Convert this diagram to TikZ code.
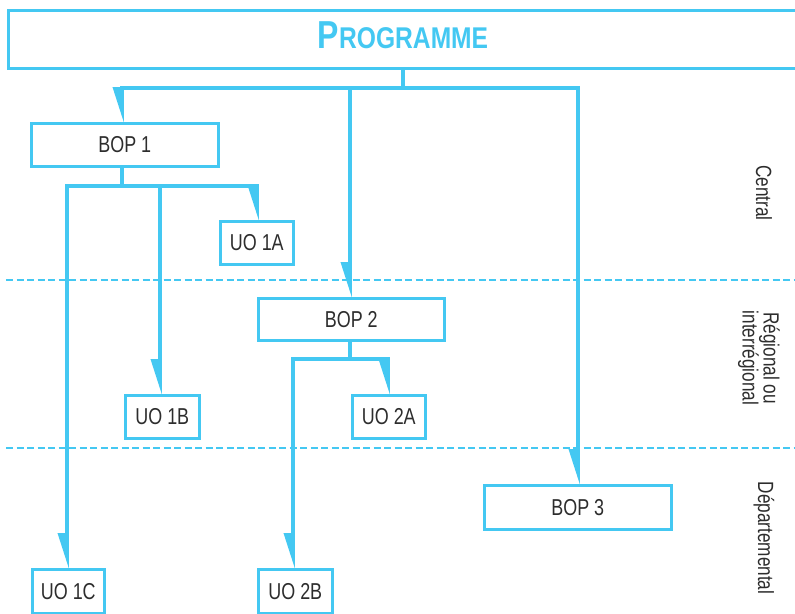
\documentclass[tikz,border=0pt]{standalone}
\usepackage{fontspec}
\setmainfont{Liberation Sans}[FakeStretch=0.78]
\newfontfamily\titlefont{Liberation Sans}[FakeStretch=0.82]
\usetikzlibrary{arrows.meta}
\definecolor{cy}{RGB}{68,200,242}
\definecolor{tx}{RGB}{45,45,45}
\tikzset{
  box/.style={draw=cy, line width=2.6pt, inner sep=0pt, text=tx, font=\fontsize{23}{26}\selectfont},
  conn/.style={draw=cy, line width=3.6pt, line cap=rect},
  arr/.style={conn, -{Triangle[right, length=30pt, width=18pt]}, shorten >=-1pt},
  sep/.style={draw=cy, line width=2.4pt, dash pattern=on 7pt off 3.5pt},
  lvl/.style={text=tx, rotate=-90, font=\fontsize{22}{21}\selectfont, align=center}
}
\begin{document}
\begin{tikzpicture}[x=1pt,y=-1pt]
\useasboundingbox (0,0) rectangle (795,613);
% dashed separators
\draw[sep] (6,280) -- (800,280);
\draw[sep] (6,448) -- (800,448);
% programme
\node[box, minimum width=800pt, minimum height=58pt, anchor=north west] (prog) at (7,9) {};
\node[text=cy, anchor=base, font=\titlefont\bfseries] (progtxt) at (403,48) {{\fontsize{39}{40}\selectfont P}{\fontsize{30}{32}\selectfont ROGRAMME}};
% boxes
\node[box, minimum width=187pt, minimum height=43pt, anchor=north west] (bop1) at (30,122) {BOP 1};
\node[box, minimum width=186pt, minimum height=42pt, anchor=north west] (bop2) at (257,297) {BOP 2};
\node[box, minimum width=187pt, minimum height=44pt, anchor=north west] (bop3) at (483,484) {BOP 3};
\node[box, minimum width=73pt, minimum height=43pt, anchor=north west] (uo1a) at (219,220) {UO 1A};
\node[box, minimum width=74pt, minimum height=43pt, anchor=north west] (uo1b) at (124,394) {UO 1B};
\node[box, minimum width=72pt, minimum height=44pt, anchor=north west] (uo1c) at (31,568) {UO 1C};
\node[box, minimum width=73pt, minimum height=43pt, anchor=north west] (uo2a) at (351,394) {UO 2A};
\node[box, minimum width=74pt, minimum height=44pt, anchor=north west] (uo2b) at (257,568) {UO 2B};
% junction coordinates
\coordinate (j0) at (403,88);
\coordinate (j1) at (122,186);
\coordinate (j2) at (350,359);
% programme connectors
\draw[conn] (prog.south -| j0) -- (j0);
\draw[arr] (j0) -| (bop1.north -| 122,0);
\draw[arr] (j0) -| (bop2.north -| 350,0);
\draw[arr] (j0) -| (bop3.north -| 578,0);
% BOP1 connectors
\draw[conn] (bop1.south -| j1) -- (j1);
\draw[arr] (j1) -| (uo1a.north -| 257,0);
\draw[arr] (j1) -| (uo1b.north -| 160,0);
\draw[arr] (j1) -| (uo1c.north -| 67,0);
% BOP2 connectors
\draw[conn] (bop2.south -| j2) -- (j2);
\draw[arr] (j2) -| (uo2a.north -| 388,0);
\draw[arr] (j2) -| (uo2b.north -| 293,0);
% level labels
\node[lvl] (central) at (764,193) {Central};
\node[lvl] (regional) at (759,358) {Régional ou\\interrégional};
\node[lvl] (dept) at (764,538) {Départemental};
\end{tikzpicture}
\end{document}
